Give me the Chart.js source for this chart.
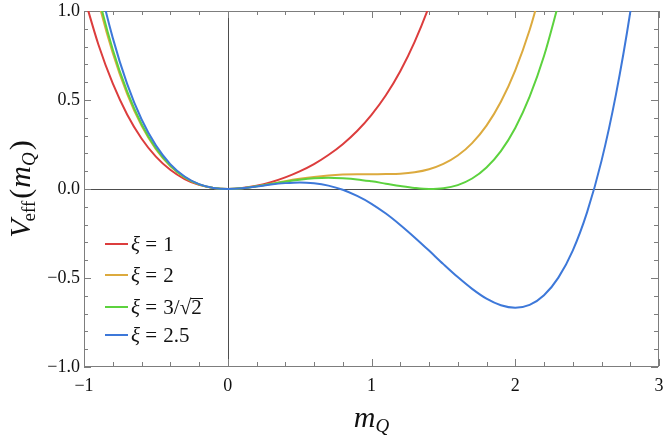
<!DOCTYPE html>
<html>
<head>
<meta charset="utf-8">
<script src="https://cdn.jsdelivr.net/npm/chart.js@4/dist/chart.umd.min.js"></script>
<style>
  html, body { margin: 0; padding: 0; background: #fff; }
  #wrap { width: 664px; height: 440px; }
</style>
</head>
<body>
<div id="wrap"><canvas id="chart" width="664" height="440"></canvas></div>
<script>
// m_Q sample positions
const xValues = [-1.0, -0.9, -0.8, -0.7, -0.6, -0.5, -0.4, -0.3, -0.2, -0.1,
    0.0, 0.1, 0.2, 0.3, 0.4, 0.5, 0.6, 0.7, 0.8, 0.9,
    1.0, 1.1, 1.2, 1.3, 1.4, 1.5, 1.6, 1.7, 1.8, 1.9,
    2.0, 2.1, 2.2, 2.3, 2.4, 2.5, 2.6, 2.7, 2.8, 2.9, 3.0];

// V_eff (stop once the curve leaves the top)
const xi1 = [1.083, 0.812, 0.593, 0.419, 0.284, 0.182, 0.108, 0.056, 0.023, 0.005,
    0, 0.005, 0.018, 0.038, 0.065, 0.099, 0.140, 0.191, 0.252, 0.326,
    0.417, 0.527, 0.662, 0.827, 1.026, 1.266];
const xi2 = [1.417, 1.055, 0.764, 0.534, 0.356, 0.224, 0.129, 0.065, 0.026, 0.006,
    0, 0.004, 0.015, 0.029, 0.044, 0.057, 0.068, 0.076, 0.081, 0.083,
    0.083, 0.084, 0.086, 0.094, 0.111, 0.141, 0.188, 0.258, 0.356, 0.490,
    0.667, 0.893, 1.178];
const xiSqrt = [1.457, 1.085, 0.784, 0.548, 0.365, 0.229, 0.132, 0.066, 0.026, 0.006,
    0, 0.004, 0.015, 0.028, 0.041, 0.052, 0.060, 0.063, 0.060, 0.054,
    0.043, 0.030, 0.017, 0.006, 0.000, 0.004, 0.022, 0.059, 0.121, 0.213,
    0.343, 0.519, 0.747, 1.038];
const xi25 = [1.583, 1.177, 0.849, 0.591, 0.392, 0.245, 0.140, 0.070, 0.027, 0.006,
    0, 0.004, 0.014, 0.025, 0.033, 0.037, 0.032, 0.019, -0.004, -0.039,
    -0.083, -0.138, -0.202, -0.272, -0.346, -0.422, -0.495, -0.561, -0.616, -0.653,
    -0.667, -0.651, -0.597, -0.498, -0.346, -0.130, 0.158, 0.529, 0.993, 1.563];

const seriesLabels = ['ξ = 1', 'ξ = 2', 'ξ = 3/√2', 'ξ = 2.5'];
const seriesColors = ['#dc3d3d', '#dcaa3e', '#5cd23e', '#3d78d9'];
const xTicks = [-1, 0, 1, 2, 3];
const yTicks = [-1.0, -0.5, 0.0, 0.5, 1.0];

const SERIF = '"Liberation Serif", "DejaVu Serif", serif';

function toPoints(values) {
    return values.map((v, i) => ({ x: xValues[i], y: v }));
}
function minus(str) {
    return str.replace('-', '\u2212');
}

// draws a run of text pieces, each with its own font and baseline shift
function drawPieces(ctx, pieces, x, y, align) {
    let total = 0;
    pieces.forEach(p => { ctx.font = p.font; p.w = ctx.measureText(p.t).width + (p.gap || 0); total += p.w; });
    let cx = align === 'center' ? x - total / 2 : x;
    ctx.textAlign = 'left';
    pieces.forEach(p => {
        ctx.font = p.font;
        ctx.fillText(p.t, cx + (p.pre || 0), y + (p.dy || 0));
        if (p.over) {
            const w = ctx.measureText(p.t).width;
            ctx.fillRect(Math.round(cx), Math.round(y + p.over), Math.round(w + 1), 1);
        }
        cx += p.w;
    });
}

function hline(ctx, x1, x2, y) {
    ctx.fillRect(Math.round(x1), Math.round(y), Math.round(x2 - x1), 1);
}
function vline(ctx, x, y1, y2) {
    ctx.fillRect(Math.round(x), Math.round(y1), 1, Math.round(y2 - y1));
}

// frame with inward ticks on all four sides, plus the two zero lines
function drawFrame(chart) {
    const ctx = chart.ctx, a = chart.chartArea;
    const sx = chart.scales.x, sy = chart.scales.y;
    const L = Math.round(a.left), R = Math.round(a.right) - 1;
    const T = Math.round(a.top), B = Math.round(a.bottom) - 1;
    ctx.save();
    ctx.fillStyle = '#4d4d4d';
    vline(ctx, sx.getPixelForValue(0), T, B);
    hline(ctx, L, R, sy.getPixelForValue(0));

    ctx.fillStyle = '#7d7d7d';
    hline(ctx, L, R + 1, T);
    hline(ctx, L, R + 1, B);
    vline(ctx, L, T, B + 1);
    vline(ctx, R, T, B + 1);
    for (let i = 0; i <= 20; i++) {
        const px = sx.getPixelForValue(-1 + i * 0.2);
        const len = i % 5 === 0 ? 7 : 4;
        vline(ctx, px, B - len, B);
        vline(ctx, px, T, T + len);
    }
    for (let i = 0; i <= 20; i++) {
        const py = sy.getPixelForValue(-1 + i * 0.1);
        const len = i % 5 === 0 ? 7 : 4;
        hline(ctx, L, L + len, py);
        hline(ctx, R - len, R, py);
    }
    ctx.restore();
}

function drawLabels(chart) {
    const ctx = chart.ctx, a = chart.chartArea;
    ctx.save();
    ctx.fillStyle = '#111111';
    ctx.textBaseline = 'alphabetic';

    // y title: V_eff(m_Q)
    ctx.save();
    ctx.translate(30, (a.top + a.bottom) / 2);
    ctx.rotate(-Math.PI / 2);
    drawPieces(ctx, [
        { t: 'V', font: 'italic 30px ' + SERIF },
        { t: 'eff', font: '19px ' + SERIF, dy: 5, pre: -2 },
        { t: '(', font: '30px ' + SERIF, gap: 1 },
        { t: 'm', font: 'italic 30px ' + SERIF },
        { t: 'Q', font: 'italic 19px ' + SERIF, dy: 5, gap: 2 },
        { t: ')', font: '30px ' + SERIF }
    ], 0, 0, 'center');
    ctx.restore();

    // x title: m_Q
    drawPieces(ctx, [
        { t: 'm', font: 'italic 30px ' + SERIF },
        { t: 'Q', font: 'italic 19px ' + SERIF, dy: 5 }
    ], (a.left + a.right) / 2, 427, 'center');

    // legend
    const rows = [244, 275, 307, 335];
    chart.data.datasets.forEach((ds, i) => {
        const ry = rows[i];
        ctx.strokeStyle = ds.borderColor;
        ctx.lineWidth = 2;
        ctx.beginPath();
        ctx.moveTo(105, ry); ctx.lineTo(128, ry);
        ctx.stroke();
        const parts = ds.label.split(' = ');
        const pieces = [
            { t: 'ξ', font: 'italic 21px ' + SERIF },
            { t: ' = ', font: '21px ' + SERIF, gap: 1 }
        ];
        if (parts[1] === '3/√2') {
            pieces.push({ t: '3/', font: '21px ' + SERIF });
            pieces.push({ t: '√', font: '21px ' + SERIF });
            pieces.push({ t: '2', font: '21px ' + SERIF, over: -16 });
        } else {
            pieces.push({ t: parts[1], font: '21px ' + SERIF });
        }
        drawPieces(ctx, pieces, 131, ry + 7, 'left');
    });
    ctx.restore();
}

const framePlugin = {
    id: 'frame',
    beforeDatasetsDraw(chart) {
        drawFrame(chart);
    },
    afterDraw(chart) {
        drawLabels(chart);
    }
};

const datasets = [xi1, xi2, xiSqrt, xi25].map((vals, i) => ({
    label: seriesLabels[i],
    data: toPoints(vals),
    borderColor: seriesColors[i],
    backgroundColor: seriesColors[i],
    borderWidth: 2,
    pointRadius: 0,
    fill: false,
    cubicInterpolationMode: 'monotone',
    order: 4 - i
}));

new Chart(document.getElementById('chart').getContext('2d'), {
    type: 'line',
    data: { datasets },
    options: {
        responsive: false,
        animation: false,
        events: [],
        layout: { padding: { top: 11, right: 5, left: 0, bottom: 0 } },
        plugins: { legend: { display: false }, tooltip: { enabled: false } },
        scales: {
            x: {
                type: 'linear',
                min: -1,
                max: 3,
                afterFit(scale) {
                    scale.height = 73;
                    scale.paddingLeft = 0;
                    scale.paddingRight = 0;
                },
                afterBuildTicks(scale) { scale.ticks = xTicks.map(v => ({ value: v })); },
                grid: { display: false, drawTicks: false },
                border: { display: false },
                ticks: {
                    padding: 8,
                    color: '#111111',
                    font: { family: SERIF, size: 18 },
                    maxRotation: 0,
                    callback: v => minus(String(v))
                }
            },
            y: {
                type: 'linear',
                min: -1,
                max: 1,
                afterFit(scale) {
                    scale.width = 84;
                    scale.paddingTop = 0;
                    scale.paddingBottom = 0;
                },
                afterBuildTicks(scale) { scale.ticks = yTicks.map(v => ({ value: v })); },
                grid: { display: false, drawTicks: false },
                border: { display: false },
                ticks: {
                    padding: 4,
                    color: '#111111',
                    font: { family: SERIF, size: 18 },
                    callback: v => minus(Number(v).toFixed(1))
                }
            }
        }
    },
    plugins: [framePlugin]
});
</script>
</body>
</html>
